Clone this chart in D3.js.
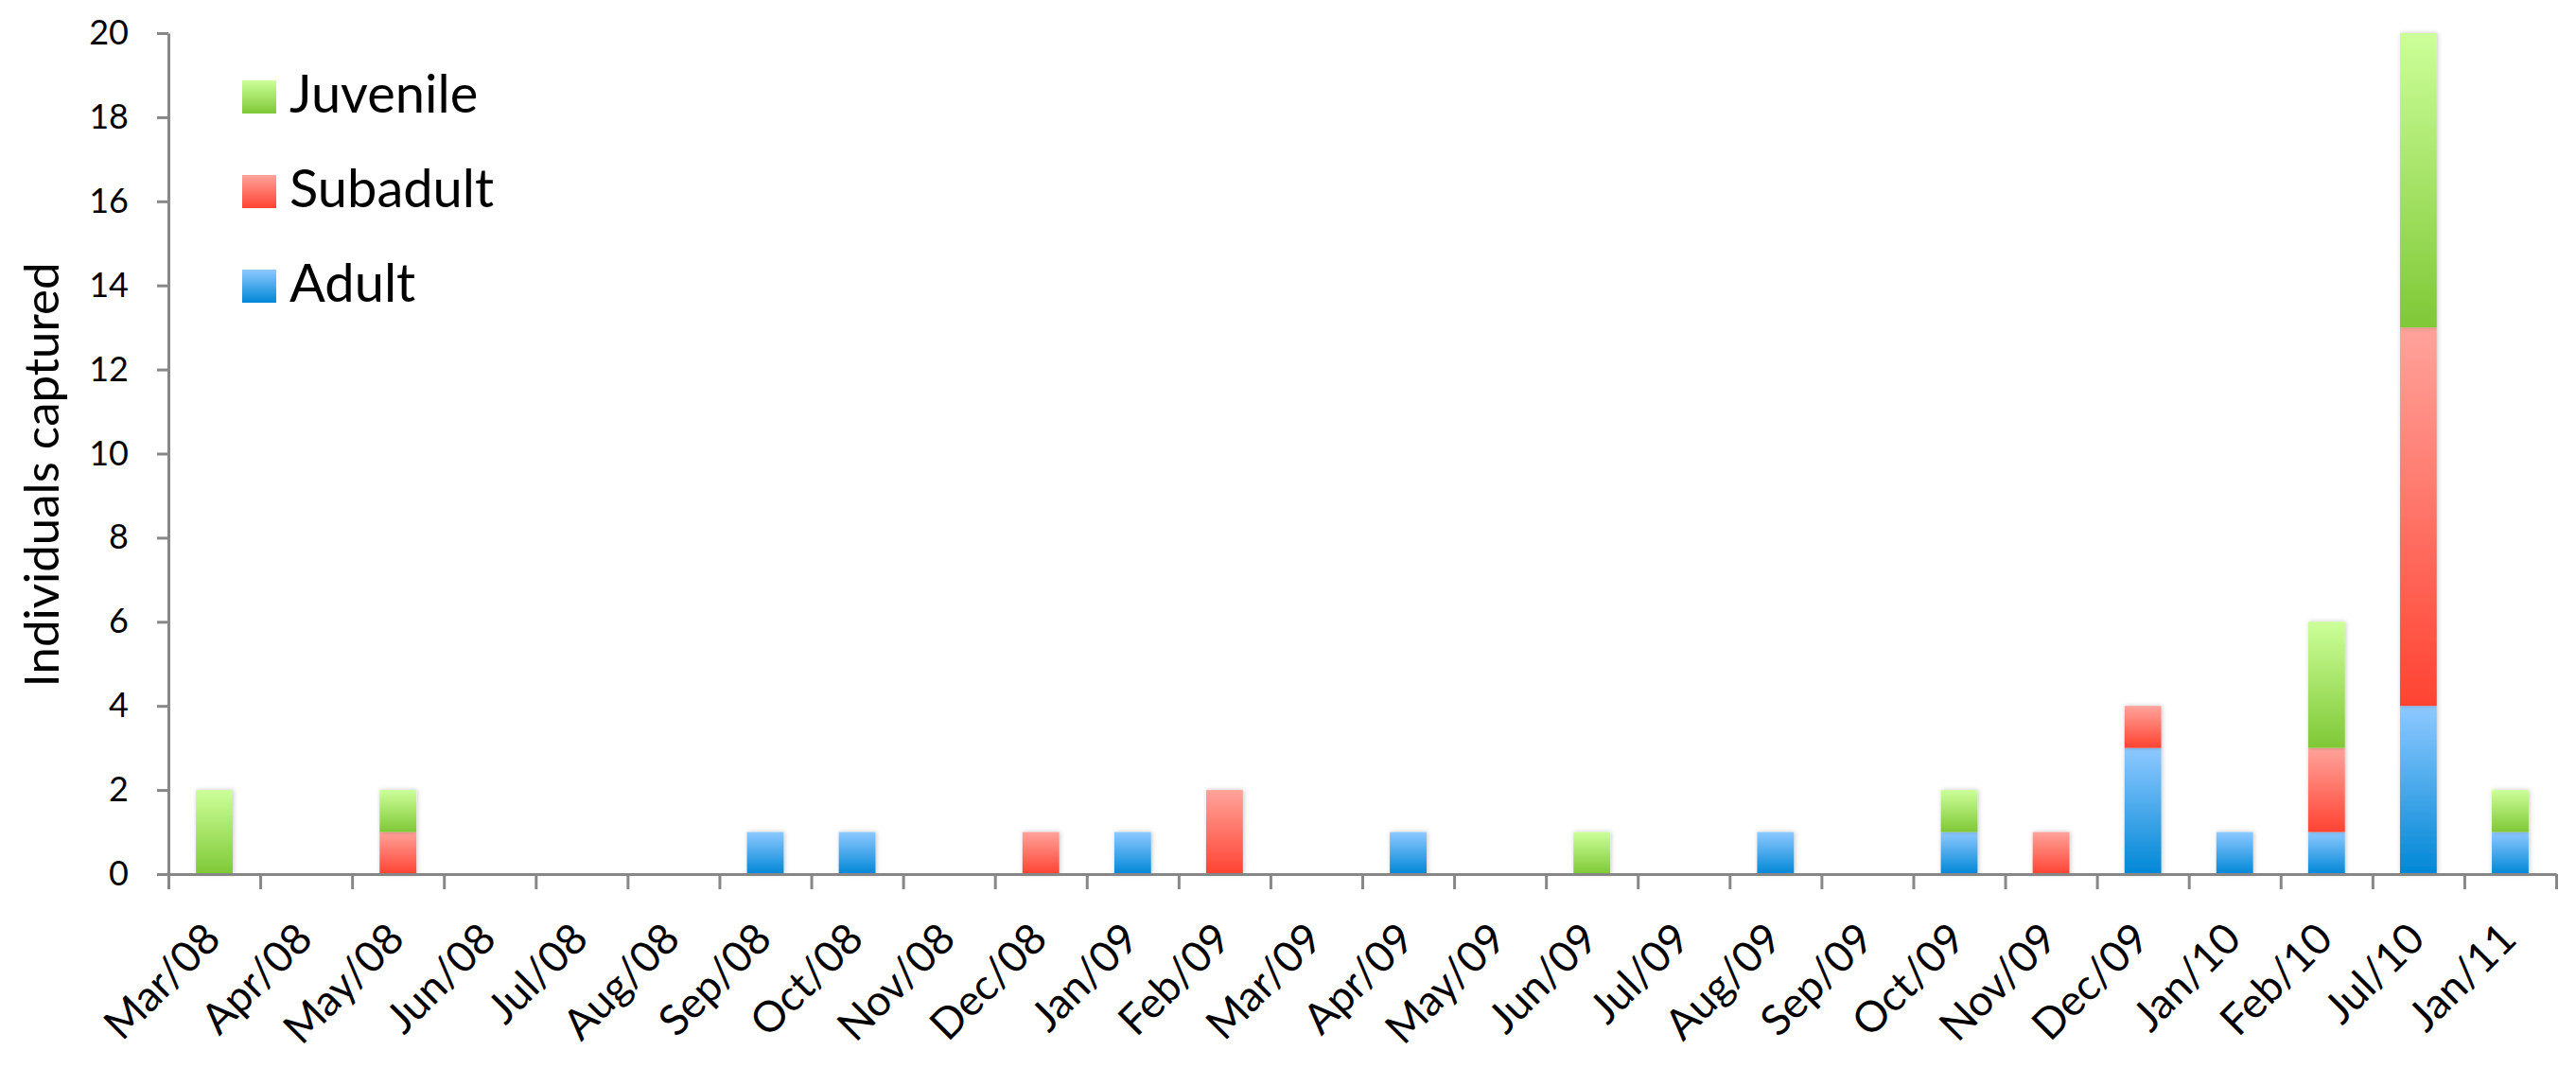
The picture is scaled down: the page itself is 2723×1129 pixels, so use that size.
<!DOCTYPE html>
<html>
<head>
<meta charset="utf-8">
<script src="https://cdn.jsdelivr.net/npm/d3@7"></script>
<style>
  body { margin: 0; background: #fff; }
  text { font-family: Lato, "Open Sans", sans-serif; fill: #000; }
</style>
</head>
<body>
<script>
var width = 2723,
  height = 1129;

var months = ["Mar/08", "Apr/08", "May/08", "Jun/08", "Jul/08", "Aug/08", "Sep/08", "Oct/08", "Nov/08",
  "Dec/08", "Jan/09", "Feb/09", "Mar/09", "Apr/09", "May/09", "Jun/09", "Jul/09", "Aug/09", "Sep/09",
  "Oct/09", "Nov/09", "Dec/09", "Jan/10", "Feb/10", "Jul/10", "Jan/11"];

var adult    = [0, 0, 0, 0, 0, 0, 1, 1, 0, 0, 1, 0, 0, 1, 0, 0, 0, 1, 0, 1, 0, 3, 1, 1, 4, 1];
var subadult = [0, 0, 1, 0, 0, 0, 0, 0, 0, 1, 0, 2, 0, 0, 0, 0, 0, 0, 0, 0, 1, 1, 0, 2, 9, 0];
var juvenile = [2, 0, 1, 0, 0, 0, 0, 0, 0, 0, 0, 0, 0, 0, 0, 1, 0, 0, 0, 1, 0, 0, 0, 3, 7, 1];

var series = ["Adult", "Subadult", "Juvenile"];
var yTicks = [0, 2, 4, 6, 8, 10, 12, 14, 16, 18, 20];

var rows = months.map(function(m, i) {
  return { month: m, Adult: adult[i], Subadult: subadult[i], Juvenile: juvenile[i] };
});

var margin = { left: 178, right: 21, top: 35, bottom: 205 };

var svg = d3.select("body").append("svg")
  .attr("width", width)
  .attr("height", height);

var defs = svg.append("defs");
var grads = {
  Juvenile: ["#ccff99", "#7fc836"],
  Subadult: ["#ffa39b", "#ff4332"],
  Adult: ["#8ec9ff", "#0087d6"]
};
Object.keys(grads).forEach(function(k) {
  var g = defs.append("linearGradient")
    .attr("id", "g-" + k)
    .attr("x1", 0).attr("y1", 0).attr("x2", 0).attr("y2", 1);
  g.append("stop").attr("offset", "0%").attr("stop-color", grads[k][0]);
  g.append("stop").attr("offset", "100%").attr("stop-color", grads[k][1]);
});
var shadow = defs.append("filter").attr("id", "shadow")
  .attr("x", "-30%").attr("y", "-10%").attr("width", "160%").attr("height", "120%");
shadow.append("feDropShadow")
  .attr("dx", 1).attr("dy", 0).attr("stdDeviation", 2.5)
  .attr("flood-color", "#000").attr("flood-opacity", 0.22);

var x = d3.scaleBand()
  .domain(months)
  .range([margin.left, width - margin.right])
  .paddingInner(0.6)
  .paddingOuter(0.3);

var xEdge = d3.scaleLinear()
  .domain([0, months.length])
  .range([margin.left, width - margin.right]);

var y = d3.scaleLinear()
  .domain([0, 20])
  .range([height - margin.bottom, margin.top]);

var layers = d3.stack().keys(series)(rows);

// bars
svg.append("g")
  .selectAll("g")
  .data(layers)
  .enter().append("g")
    .attr("fill", function(d) { return "url(#g-" + d.key + ")"; })
  .selectAll("rect")
  .data(function(d) { return d.filter(function(p) { return p[1] > p[0]; }); })
  .enter().append("rect")
    .attr("filter", "url(#shadow)")
    .attr("x", function(d) { return x(d.data.month); })
    .attr("width", x.bandwidth())
    .attr("y", function(d) { return y(d[1]); })
    .attr("height", function(d) { return y(d[0]) - y(d[1]); });

// y axis
var yAxis = svg.append("g")
  .attr("transform", "translate(" + margin.left + ",0)")
  .call(d3.axisLeft(y).tickValues(yTicks).tickSize(12).tickSizeOuter(0).tickPadding(30));
yAxis.select(".domain").attr("stroke", "#878787").attr("stroke-width", 3);
yAxis.selectAll(".tick line").attr("stroke", "#878787").attr("stroke-width", 3);
yAxis.selectAll(".tick text")
  .style("font-size", "36px");

// x axis, ticks on the category edges
var xAxis = svg.append("g")
  .attr("transform", "translate(0," + y(0) + ")")
  .call(d3.axisBottom(xEdge).tickValues(d3.range(months.length + 1)).tickSize(16).tickSizeOuter(0).tickFormat(""));
xAxis.select(".domain").attr("stroke", "#878787").attr("stroke-width", 3);
xAxis.selectAll(".tick line").attr("stroke", "#878787").attr("stroke-width", 3);

svg.append("g")
  .selectAll("text")
  .data(months)
  .enter().append("text")
    .attr("transform", function(d) {
      return "translate(" + (x(d) + x.bandwidth() / 2 + 9) + "," + (y(0) + 71) + ") rotate(-45)";
    })
    .attr("text-anchor", "end")
    .style("font-size", "45px")
    .text(function(d) { return d; });

// y title
svg.append("text")
  .attr("transform", "translate(62,502) rotate(-90)")
  .attr("text-anchor", "middle")
  .style("font-size", "51px")
  .text("Individuals captured");

// legend
var legendItems = ["Juvenile", "Subadult", "Adult"];
var legend = svg.append("g")
  .selectAll("g")
  .data(legendItems)
  .enter().append("g")
    .attr("transform", function(d, i) { return "translate(256," + (102 + i * 100) + ")"; });
legend.append("rect")
  .attr("x", 0).attr("y", -17)
  .attr("width", 36).attr("height", 35)
  .attr("fill", function(d) { return "url(#g-" + d + ")"; });
legend.append("text")
  .attr("x", 50)
  .attr("y", 17)
  .style("font-size", "56px")
  .text(function(d) { return d; });
</script>
</body>
</html>
